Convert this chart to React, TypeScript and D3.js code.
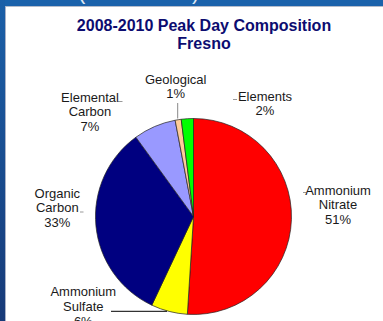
import React from "react";
import * as d3 from "d3";

const categories = [
  "Ammonium Nitrate",
  "Ammonium Sulfate",
  "Organic Carbon",
  "Elemental Carbon",
  "Geological",
  "Elements",
];
const shares = [51, 6, 33, 7, 1, 2];
const sliceColors = ["#ff0000", "#ffff00", "#000080", "#9999ff", "#ffcc99", "#00ff00"];
const labelLines = [
  ["Ammonium", "Nitrate", "51%"],
  ["Ammonium", "Sulfate", "6%"],
  ["Organic", "Carbon", "33%"],
  ["Elemental", "Carbon", "7%"],
  ["Geological", "1%"],
  ["Elements", "2%"],
];
const titleLines = ["2008-2010 Peak Day Composition", "Fresno"];

const W = 383;
const H = 321;
const cx = 193.5;
const cy = 216.5;
const R = 98;

// label anchor (centre x, first baseline) for each slice
const labelPos: [number, number][] = [
  [338, 194.5],
  [83.3, 296],
  [57.3, 197.5],
  [90, 101.5],
  [175.7, 83.5],
  [265, 100.5],
];
const lineGap = 14.8;

// short Excel-style leader ticks
const leaders: [number, number, number, number][] = [
  [303, 192.5, 306.5, 192.5],
  [111, 311.3, 167, 311.3],
  [80, 212, 83.5, 212],
  [118, 101.5, 122.5, 101.5],
  [177.7, 103, 177.7, 118.5],
  [233, 99.5, 237, 99.5],
];
const leaderColors = ["#999", "#000", "#999", "#999", "#888", "#999"];

export default function App() {
  const pie = d3
    .pie<number>()
    .sort(null)
    .value((d) => d);
  const arcs = pie(shares);
  const arcGen = d3.arc<d3.PieArcDatum<number>>().innerRadius(0).outerRadius(R);

  return (
    <svg
      width={W}
      height={H}
      style={{ position: "absolute", left: 0, top: 0, display: "block" }}
      fontFamily="'Liberation Sans', Arial, sans-serif"
    >
      <defs>
        <linearGradient id="sideBand" x1="0" y1="0" x2="0" y2="1">
          <stop offset="0" stopColor="#1b60a8" />
          <stop offset="1" stopColor="#173a78" />
        </linearGradient>
        <clipPath id="topBandClip">
          <rect x={0} y={0} width={W} height={6} />
        </clipPath>
      </defs>
      <rect x={0} y={0} width={W} height={H} fill="#ffffff" />
      <rect x={0} y={0} width={W} height={6} fill="#1a62ab" />
      <g clipPath="url(#topBandClip)" fill="#dfe8f4" fontSize={22}>
        <text x={78} y={-1}>(</text>
        <text x={192} y={-1}>)</text>
      </g>
      <rect x={0} y={0} width={5} height={H} fill="url(#sideBand)" />
      <line x1={5} y1={6.5} x2={W} y2={6.5} stroke="#b4bccb" strokeWidth={1} />
      <line x1={5.5} y1={6} x2={5.5} y2={H} stroke="#a9b2c8" strokeWidth={1} />

      {titleLines.map((t, i) => (
        <text
          key={t}
          x={204}
          y={31 + i * 18}
          textAnchor="middle"
          fontSize={16}
          fontWeight="bold"
          fill="#0c0c70"
        >
          {t}
        </text>
      ))}

      <g transform={`translate(${cx},${cy})`}>
        {arcs.map((a, i) => (
          <path
            key={categories[i]}
            d={arcGen(a) || ""}
            fill={sliceColors[i]}
            stroke="#222"
            strokeWidth={0.7}
            strokeLinejoin="round"
          />
        ))}
      </g>

      {leaders.map((l, i) => (
        <line
          key={"ld" + i}
          x1={l[0]}
          y1={l[1]}
          x2={l[2]}
          y2={l[3]}
          stroke={leaderColors[i]}
          strokeWidth={1}
        />
      ))}

      {labelLines.map((lines, i) => (
        <text
          key={"lb" + i}
          textAnchor="middle"
          fontSize={13}
          fill="#1a1a1a"
        >
          {lines.map((s, j) => (
            <tspan key={j} x={labelPos[i][0]} y={labelPos[i][1] + j * lineGap}>
              {s}
            </tspan>
          ))}
        </text>
      ))}
    </svg>
  );
}
